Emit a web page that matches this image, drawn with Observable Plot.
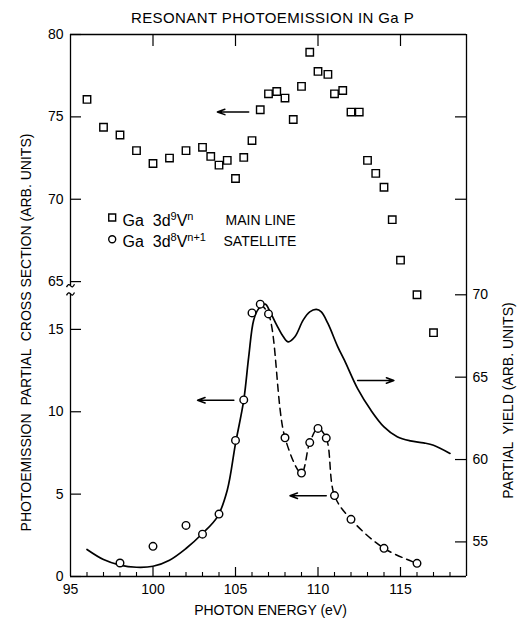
<!DOCTYPE html>
<html><head><meta charset="utf-8">
<script src="https://cdn.jsdelivr.net/npm/d3@7"></script>
<script src="https://cdn.jsdelivr.net/npm/@observablehq/plot@0.6"></script>
<style>
body{margin:0;background:#fff;}
#chart{width:517px;height:618px;}
#chart svg{font-family:"Liberation Sans",Arial,sans-serif;}
</style></head><body><div id="chart"></div>
<script>
// Ga 3d9 V^n main line (upper left axis, 65-80)
const mainEnergy = [96,97,98,99,100,101,102,103,103.5,104,104.5,105,105.5,106,106.5,107,107.5,108,108.5,109,109.5,110,110.6,111,111.5,112,112.5,113,113.5,114,114.5,115,116,117];
const mainValue  = [76.06,74.37,73.9,72.95,72.17,72.5,72.95,73.15,72.6,72.07,72.36,71.26,72.54,73.56,75.43,76.4,76.54,76.14,74.84,76.85,78.92,77.76,77.58,76.4,76.6,75.29,75.29,72.36,71.57,70.73,68.76,66.3,64.2,61.9];
// Ga 3d8 V^n+1 satellite (lower left axis, 0-15)
const satEnergy = [98,100,102,103,104,105,105.5,106,106.5,107,108,109,109.5,110,110.5,111,112,114,116];
const satValue  = [0.82,1.83,3.1,2.57,3.79,8.26,10.72,16.0,16.53,15.94,8.42,6.28,8.13,8.99,8.4,4.91,3.47,1.71,0.8];
// Partial yield (right axis)
const yieldEnergy = [96,97,98,99,100,101,102,103,103.9,104.5,105,105.5,105.8,106.1,106.4,106.8,107.1,107.5,107.9,108.2,108.6,109.1,109.5,109.9,110.2,110.6,111.2,111.6,112.4,113.2,114,114.8,115.6,116.4,117,118];
const yieldValue  = [54.54,53.93,53.59,53.46,53.52,53.89,54.6,55.51,56.52,58.14,60.97,63.6,66.23,68.46,69.15,69.43,68.96,68.16,67.45,67.14,67.45,68.46,68.96,69.11,68.96,68.26,66.84,66.03,64.3,63.0,61.98,61.38,61.13,61.01,60.87,60.37];

const xTicks = [95,100,105,110,115];
const leftLowerTicks = [0,5,10,15];
const leftUpperTicks = [65,70,75,80];
const rightTicks = [55,60,65,70];

const title = "RESONANT PHOTOEMISSION IN Ga P";
const xLabel = "PHOTON ENERGY (eV)";
const yLeftLabel = "PHOTOEMISSION  PARTIAL  CROSS SECTION (ARB. UNITS)";
const yRightLabel = "PARTIAL  YIELD (ARB. UNITS)";
const legendMain = ["Ga  3d⁹Vⁿ", "MAIN LINE"];
const legendSat = ["Ga  3d⁸Vⁿ⁺¹", "SATELLITE"];

// broken axis: upper segment and right axis share the plot's y coordinate via offsets
const UPPER_OFFSET = 47.1;
const RIGHT_OFFSET = 52.9;
const up = v => v - UPPER_OFFSET;
const rt = v => v - RIGHT_OFFSET;

// annotation arrows (energy, value on their own axis)
const arrows = [
  {x1:105.8, x2:103.9, v:75.3, axis:"upper"},
  {x1:104.9, x2:102.7, v:10.7, axis:"lower"},
  {x1:112.4, x2:114.6, v:64.8, axis:"right"},
  {x1:110.5, x2:108.3, v:4.9,  axis:"lower"}
];

const mainData = mainEnergy.map((e,i)=>({e, y: up(mainValue[i])}));
const satData = satEnergy.map((e,i)=>({e, y: satValue[i]}));
const yieldData = yieldEnergy.map((e,i)=>({e, y: rt(yieldValue[i])}));
const arrowData = arrows.map(a=>({x1:a.x1, x2:a.x2, y: a.axis==="upper"?up(a.v):a.axis==="right"?rt(a.v):a.v}));

const W = 517, H = 618, mL = 70, mR = 51, mT = 34, mB = 42;
const fw = W - mL - mR, fh = H - mT - mB;
const X0 = 95, X1 = 119, YTOP = 32.9;
const breakLow = 17.15, breakHigh = 17.65;

const leftTickPos = [...leftLowerTicks, ...leftUpperTicks.map(up)];
const rightTickPos = rightTicks.map(rt);
const minorX = d3.range(96, 119).filter(v => !xTicks.includes(v));
const fs = 14;

// small "~" break marker as a custom symbol
const tilde = {draw(ctx, size) {
  const r = Math.sqrt(size / Math.PI);
  ctx.moveTo(-r, r * 0.35);
  ctx.quadraticCurveTo(-r * 0.5, -r * 0.7, 0, 0);
  ctx.quadraticCurveTo(r * 0.5, r * 0.7, r, -r * 0.35);
}};

const chart = Plot.plot({
  width: W, height: H,
  marginLeft: mL, marginRight: mR, marginTop: mT, marginBottom: mB,
  x: {domain: [X0, X1]},
  y: {domain: [0, YTOP]},
  style: {fontSize: fs+"px", fontFamily: '"Liberation Sans", Arial, sans-serif', color: "#000", background: "#fff"},
  marks: [
    // frame
    Plot.ruleY([0, YTOP], {stroke: "#000", strokeWidth: 1.3}),
    Plot.ruleX([X1], {stroke: "#000", strokeWidth: 1.3}),
    Plot.ruleX([{y1: 0, y2: breakLow}, {y1: breakHigh, y2: YTOP}], {x: X0, y1: "y1", y2: "y2", stroke: "#000", strokeWidth: 1.3}),
    Plot.dot([breakLow, breakHigh], {x: X0, y: d => d, symbol: tilde, r: 4, fill: "none", stroke: "#000", strokeWidth: 1.3}),
    // ticks (inward)
    Plot.tickY(leftTickPos, {y: d => d, insetRight: fw - 11, stroke: "#000", strokeWidth: 1.2}),
    Plot.tickY([...rightTickPos, up(70), up(75)], {y: d => d, insetLeft: fw - 11, stroke: "#000", strokeWidth: 1.2}),
    Plot.tickX(xTicks.slice(1), {x: d => d, insetBottom: fh - 12, stroke: "#000", strokeWidth: 1.2}),
    Plot.tickX(xTicks.slice(1), {x: d => d, insetTop: fh - 9, stroke: "#000", strokeWidth: 1.2}),
    Plot.tickX(minorX, {x: d => d, insetTop: fh - 4, stroke: "#000", strokeWidth: 1.1}),
    // axes labels
    Plot.axisX({anchor: "bottom", ticks: xTicks, tickSize: 0, tickPadding: 8, label: null, fontSize: fs}),
    Plot.axisY({anchor: "left", ticks: leftTickPos, tickFormat: u => u > breakLow ? Math.round(u + UPPER_OFFSET) : Math.round(u), tickSize: 0, tickPadding: 7, label: null, fontSize: fs}),
    Plot.axisY({anchor: "right", ticks: rightTickPos, tickFormat: u => Math.round(u + RIGHT_OFFSET), tickSize: 0, tickPadding: 6, label: null, fontSize: fs}),
    // curves
    Plot.line(yieldData, {x: "e", y: "y", curve: "catmull-rom", stroke: "#000", strokeWidth: 1.7}),
    Plot.line(satData.filter(d => d.e >= 106.5), {x: "e", y: "y", curve: "catmull-rom", stroke: "#000", strokeWidth: 1.5, strokeDasharray: "7,5"}),
    Plot.dot(satData, {x: "e", y: "y", r: 3.8, stroke: "#000", strokeWidth: 1.4, fill: "#fff"}),
    Plot.dot(mainData, {x: "e", y: "y", symbol: "square", r: 4.2, stroke: "#000", strokeWidth: 1.4, fill: "#fff"}),
    // arrows
    Plot.arrow(arrowData, {x1: "x1", x2: "x2", y1: "y", y2: "y", stroke: "#000", strokeWidth: 1.5, headLength: 8, headAngle: 40}),
    // legend
    Plot.dot([0], {frameAnchor: "top-left", dx: 41.7, dy: 183, symbol: "square", r: 3.9, stroke: "#000", strokeWidth: 1.4, fill: "#fff"}),
    Plot.dot([0], {frameAnchor: "top-left", dx: 41.7, dy: 204.7, r: 3.5, stroke: "#000", strokeWidth: 1.4, fill: "#fff"}),
    Plot.text([legendMain[0]], {frameAnchor: "top-left", dx: 52, dy: 186, text: d => d, textAnchor: "start", lineAnchor: "middle", fontSize: 16}),
    Plot.text([legendMain[1]], {frameAnchor: "top-left", dx: 155, dy: 186, text: d => d, textAnchor: "start", lineAnchor: "middle", fontSize: 14}),
    Plot.text([legendSat[0]], {frameAnchor: "top-left", dx: 52, dy: 207, text: d => d, textAnchor: "start", lineAnchor: "middle", fontSize: 16}),
    Plot.text([legendSat[1]], {frameAnchor: "top-left", dx: 153, dy: 207, text: d => d, textAnchor: "start", lineAnchor: "middle", fontSize: 14}),
    // titles
    Plot.text([title], {frameAnchor: "top", dy: -16, dx: 4, text: d => d, lineAnchor: "middle", fontSize: 15}),
    Plot.text([xLabel], {frameAnchor: "bottom", dy: 34, dx: 2, text: d => d, lineAnchor: "middle", fontSize: 14}),
    Plot.text([yLeftLabel], {frameAnchor: "left", dx: -44, dy: 27, rotate: -90, text: d => d, textAnchor: "middle", lineAnchor: "middle", fontSize: 14}),
    Plot.text([yRightLabel], {frameAnchor: "right", dx: 42, dy: 95, rotate: -90, text: d => d, textAnchor: "middle", lineAnchor: "middle", fontSize: 14})
  ]
});

// letter spacing for the wide hand-lettered title, and raised superscripts in the legend
const supMap = {"⁰":"0","¹":"1","²":"2","³":"3","⁴":"4","⁵":"5","⁶":"6","⁷":"7","⁸":"8","⁹":"9","ⁿ":"n","⁺":"+"};
d3.select(chart).selectAll("text").each(function() {
  const s = this.textContent;
  if (s === title) this.setAttribute("letter-spacing", "0.4");
  if (![...s].some(c => supMap[c])) return;
  const parts = [];
  for (const c of s) {
    const sup = !!supMap[c];
    const last = parts[parts.length - 1];
    if (last && last.sup === sup) last.t += sup ? supMap[c] : c;
    else parts.push({sup, t: sup ? supMap[c] : c});
  }
  const el = d3.select(this);
  el.text(null);
  let raised = false;
  for (const p of parts) {
    const ts = el.append("tspan").text(p.t);
    if (p.sup) { ts.attr("dy", raised ? null : -6).attr("font-size", 11); raised = true; }
    else if (raised) { ts.attr("dy", 6); raised = false; }
  }
});
document.getElementById("chart").append(chart);
</script></body></html>
